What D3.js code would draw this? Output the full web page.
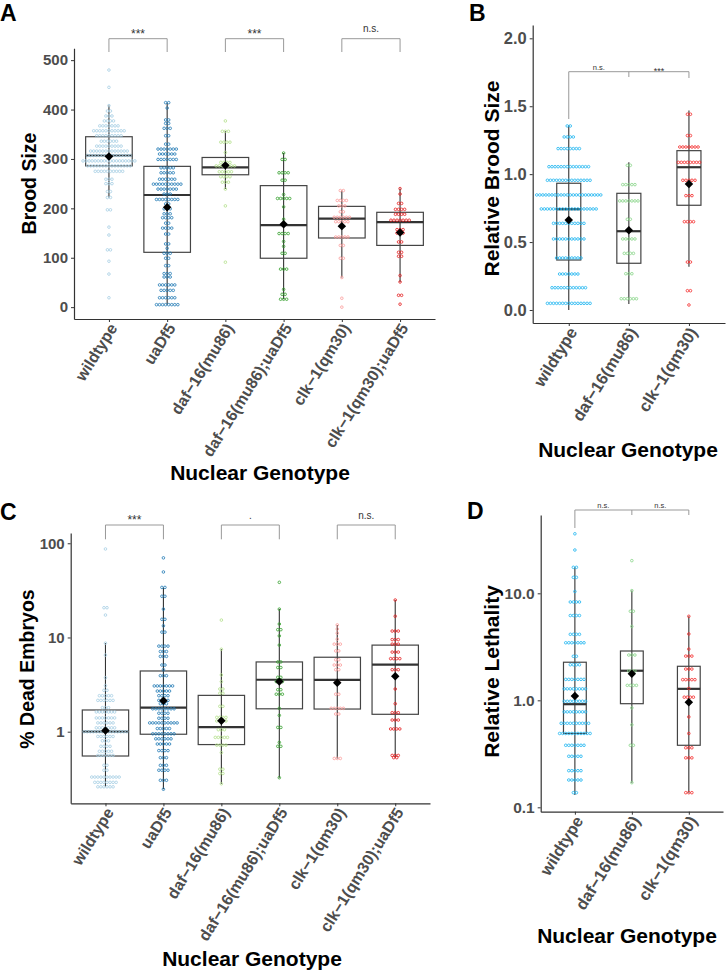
<!DOCTYPE html>
<html><head><meta charset="utf-8">
<script src="https://cdn.jsdelivr.net/npm/d3@7"></script>
<style>body{margin:0;background:#fff}svg{display:block}</style>
</head><body>
<script>
// ---------------- DATA ----------------
const genotypes6 = ["wildtype","uaDf5","daf\u221216(mu86)","daf\u221216(mu86);uaDf5","clk\u22121(qm30)","clk\u22121(qm30);uaDf5"];
const genotypes3 = ["wildtype","daf\u221216(mu86)","clk\u22121(qm30)"];
const colors6 = ["#A6CEE3","#1F78B4","#B2DF8A","#33A02C","#FB9A99","#E31A1C"];
const colors3 = ["#1AB4F0","#86D486","#F42A2A"];

// Panel A: Brood size rows [value, count]
const broodWildtype = [[480,1],[445,1],[408,1],[397,2],[387,3],[377,4],[367,7],[357,11],[347,9],[336,6],[326,9],[316,13],[307,15],[296,18],[286,15],[275,10],[259,3],[250,3],[234,2],[222,2],[197,2],[162,1],[146,1],[116,2],[93,1],[67,1],[19,1]];
const broodUaDf5 = [[414,2],[403,1],[379,2],[372,2],[362,3],[347,2],[330,2],[320,7],[310,6],[299,7],[282,5],[272,5],[259,6],[249,10],[239,7],[229,3],[218,8],[209,2],[199,3],[189,3],[181,4],[170,2],[160,4],[148,2],[128,2],[119,1],[109,3],[99,2],[84,2],[68,3],[61,3],[45,6],[34,5],[19,6],[5,8]];
const broodDaf16 = [[377,1],[356,3],[334,4],[313,1],[293,4],[286,7],[274,5],[264,4],[253,3],[239,1],[205,1],[91,1]];
const broodDaf16UaDf5 = [[312,1],[299,2],[272,4],[257,2],[228,1],[220,5],[203,1],[178,1],[149,4],[133,1],[123,1],[109,2],[77,3],[36,1],[26,2],[16,3]];
const broodClk1 = [[236,2],[216,4],[205,3],[193,2],[182,6],[173,5],[142,5],[125,2],[99,2],[60,1],[18,1],[0,1]];
const broodClk1UaDf5 = [[240,1],[229,1],[210,2],[198,4],[188,4],[176,7],[157,3],[150,3],[132,2],[111,2],[103,2],[64,1],[51,1],[24,2],[6,1]];
const broodQ1 = [286,111,268,99,140,125];
const broodMedian = [307,227,283,166,179,172];
const broodQ3 = [345,285,303,246,204,192];
const broodLo = [222,5,239,16,60,51];
const broodHi = [408,414,356,312,236,240];
const broodMean = [305,202,287,168,164,151];
const broodTicks = [0,100,200,300,400,500];
const broodSig = ["***","***","n.s."];

// Panel B: relative brood size
const relBroodWildtype = [[1.355,2],[1.274,4],[1.188,8],[1.055,14],[0.955,15],[0.847,22],[0.744,19],[0.638,11],[0.523,11],[0.383,9],[0.265,7],[0.164,12],[0.049,15]];
const relBroodDaf16 = [[1.065,2],[0.923,5],[0.803,7],[0.668,2],[0.523,5],[0.417,4],[0.267,3],[0.083,6]];
const relBroodClk1 = [[1.441,2],[1.284,2],[1.2,7],[1.087,8],[0.955,5],[0.842,3],[0.65,4],[0.353,2],[0.142,2],[0.037,1]];
const relBroodQ1 = [0.368,0.344,0.771];
const relBroodMedian = [0.742,0.58,1.051];
const relBroodQ3 = [0.933,0.859,1.173];
const relBroodLo = [0.0,0.044,0.319];
const relBroodHi = [1.36,1.087,1.468];
const relBroodMean = [0.663,0.587,0.928];
const relBroodTicks = [0,0.5,1.0,1.5,2.0];
const relBroodSig = ["n.s.","***"];

// Panel C: % dead embryos
const deadWildtype = [[87,1],[20.7,2],[17.3,1],[8.7,1],[6.5,1],[3.74,1],[3.08,1],[2.75,2],[2.41,5],[2.15,6],[1.8,3],[1.62,7],[1.40,7],[1.24,6],[1.10,7],[1.0,15],[0.89,6],[0.80,3],[0.70,4],[0.62,5],[0.56,6],[0.44,2],[0.39,2],[0.33,10],[0.29,8],[0.26,6]];
const deadUaDf5 = [[70,1],[49.6,1],[34,2],[27.4,2],[20,1],[15.6,2],[13.3,1],[11.4,2],[8.1,4],[7.1,3],[6.3,3],[5.1,2],[4.55,1],[3.93,3],[3.06,7],[2.7,5],[2.41,4],[2.15,4],[1.98,3],[1.75,8],[1.57,4],[1.39,4],[1.24,10],[1.08,5],[0.95,8],[0.84,6],[0.74,5],[0.63,4],[0.53,3],[0.44,3],[0.39,4],[0.305,3],[0.245,1]];
const deadDaf16 = [[15.3,1],[7.5,1],[4.0,1],[3.4,1],[2.84,2],[2.56,2],[1.86,2],[1.42,4],[1.30,4],[1.05,3],[0.87,5],[0.72,4],[0.60,1],[0.40,2],[0.36,2],[0.28,1]];
const deadDaf16UaDf5 = [[38.5,1],[20,1],[13.9,1],[12.1,2],[10.4,1],[8.3,1],[5.5,2],[4.8,2],[3.78,2],[3.4,3],[2.79,2],[2.5,3],[1.77,1],[1.49,1],[1.11,2],[0.77,1],[0.70,2],[0.325,1]];
const deadClk1 = [[13.6,1],[12.3,1],[11.1,1],[9.6,1],[8.5,3],[7.2,2],[5.8,2],[5.1,3],[4.55,2],[3.35,2],[2.5,2],[1.77,5],[1.54,2],[0.52,3]];
const deadClk1UaDf5 = [[25,1],[16.8,1],[11.7,3],[9.5,3],[8.5,3],[7.0,3],[5.96,4],[4.55,3],[2.84,1],[1.98,1],[1.59,3],[1.33,3],[1.07,4],[0.56,3],[0.53,2]];
const deadQ1 = [0.552,0.94,0.73,1.75,1.74,1.53];
const deadMedian = [1.0,1.80,1.12,3.56,3.54,5.14];
const deadQ3 = [1.70,4.41,2.43,5.5,6.17,8.3];
const deadLo = [0.26,0.245,0.28,0.325,0.52,0.53];
const deadHi = [8.7,34,7.5,20,13.6,25];
const deadMean = [1.03,2.13,1.31,3.4,3.31,3.87];
const deadTicks = [1,10,100];
const deadSig = ["***",".","n.s."];

// Panel D: relative lethality
const lethWildtype = [[36,1],[25.4,1],[17.5,2],[14.1,2],[10.4,1],[8.3,4],[6.2,4],[4.14,4],[3.45,7],[2.58,2],[2.15,4],[1.57,7],[1.28,8],[0.98,8],[0.78,8],[0.61,10],[0.49,11],[0.38,7],[0.30,5],[0.22,5],[0.18,5],[0.137,2]];
const lethDaf16 = [[20.2,1],[10.6,1],[6.8,2],[4.9,1],[2.65,3],[1.88,3],[1.38,4],[0.85,1],[0.59,1],[0.38,2],[0.17,1]];
const lethClk1 = [[6.1,1],[4.17,1],[3.01,1],[2.59,3],[1.96,3],[1.56,5],[1.29,1],[1.07,4],[0.70,1],[0.49,1],[0.36,3],[0.29,3],[0.137,3]];
const lethQ1 = [0.49,0.93,0.38];
const lethMedian = [0.92,1.89,1.28];
const lethQ3 = [2.27,2.89,2.08];
const lethLo = [0.13,0.17,0.137];
const lethHi = [17.5,10.6,6.1];
const lethMean = [1.10,1.77,0.96];
const lethTicks = [0.1,1.0,10.0];
const lethSig = ["n.s.","n.s."];

// ---------------- DRAWING ----------------
const FONT = "'Liberation Sans', Arial, Helvetica, sans-serif";
const svg = d3.select("body").append("svg").attr("width",726).attr("height",972)
  .style("font-family", FONT);

function drawPanel(p) {
  const g = svg.append("g");
  const x = d3.scalePoint().domain(p.cats).range([p.x0, p.x1]).padding(0.6);
  const step = x.step();
  const y = (p.log ? d3.scaleLog() : d3.scaleLinear()).domain(p.yDomain).range([p.yBottom, p.yTop]);

  // panel letter
  g.append("text").attr("x", p.letterX).attr("y", p.letterY).text(p.letter)
    .attr("font-size", 23).attr("font-weight", "bold").attr("fill", "#000");

  // y axis
  const ya = g.append("g").attr("transform", `translate(${p.x0},0)`)
    .call(d3.axisLeft(y).tickValues(p.ticks).tickFormat(p.fmt).tickSize(3).tickSizeOuter(0).tickPadding(3));
  ya.select(".domain").attr("stroke", "#333").attr("stroke-width", 1.2);
  ya.selectAll(".tick line").attr("stroke", "#333").attr("stroke-width", 1);
  ya.selectAll(".tick text").attr("font-size", p.tickFs).attr("font-weight", "bold")
    .attr("fill", "#4D4D4D").attr("font-family", FONT);

  // x axis
  const xa = g.append("g").attr("transform", `translate(0,${p.yBottom})`)
    .call(d3.axisBottom(x).tickSize(3).tickSizeOuter(0).tickFormat(""));
  xa.select(".domain").attr("stroke", "#333").attr("stroke-width", 1.2);
  xa.selectAll(".tick line").attr("stroke", "#333").attr("stroke-width", 1);
  p.cats.forEach(c => {
    g.append("text")
      .attr("transform", `translate(${x(c) + 9},${p.yBottom + 9}) rotate(-58)`)
      .attr("text-anchor", "end").attr("font-size", p.xTickFs).attr("font-weight", "bold")
      .attr("fill", "#4D4D4D").text(c);
  });

  // titles
  g.append("text").attr("transform", `translate(${p.yTitleX},${p.yTitleY}) rotate(-90)`)
    .attr("text-anchor", "middle").attr("font-size", p.yTitleFs).attr("font-weight", "bold")
    .attr("fill", "#000").text(p.yTitle);
  g.append("text").attr("x", p.xTitleX).attr("y", p.xTitleY)
    .attr("text-anchor", "middle").attr("font-size", 21).attr("font-weight", "bold")
    .attr("fill", "#000").text("Nuclear Genotype");

  const hw = step * p.boxFrac / 2;
  p.cats.forEach((c, i) => {
    const cx = x(c);
    g.append("line").attr("x1", cx).attr("x2", cx).attr("y1", y(p.lo[i])).attr("y2", y(p.hi[i]))
      .attr("stroke", "#333").attr("stroke-width", 1.1);
    g.append("rect").attr("x", cx - hw).attr("width", hw * 2)
      .attr("y", y(p.q3[i])).attr("height", y(p.q1[i]) - y(p.q3[i]))
      .attr("fill", "none").attr("stroke", "#444").attr("stroke-width", 1.2);
    g.append("line").attr("x1", cx - hw).attr("x2", cx + hw).attr("y1", y(p.med[i])).attr("y2", y(p.med[i]))
      .attr("stroke", "#333").attr("stroke-width", 2.2);
    const sp = 3.05;
    p.rows[i].forEach(([v, n]) => {
      for (let j = 0; j < n; j++) {
        g.append("circle").attr("cx", cx + (j - (n - 1) / 2) * sp).attr("cy", y(v)).attr("r", 1.3)
          .attr("fill", "none").attr("stroke", p.colors[i]).attr("stroke-width", 0.8);
      }
    });
    g.append("path").attr("d", d3.symbol().type(d3.symbolSquare).size(36)())
      .attr("transform", `translate(${cx},${y(p.mean[i])}) rotate(45)`).attr("fill", "#000");
  });

  // significance brackets
  const bc = "#999";
  if (p.bracketPairs) {
    p.sig.forEach((s, k) => {
      const xa1 = x(p.cats[2 * k]), xa2 = x(p.cats[2 * k + 1]);
      g.append("path").attr("d", `M${xa1},${p.brArm}V${p.brTop}H${xa2}V${p.brArm}`)
        .attr("fill", "none").attr("stroke", bc).attr("stroke-width", 1);
      const star = s.indexOf("*") >= 0;
      g.append("text").attr("x", (xa1 + xa2) / 2).attr("y", star ? p.brTop - 1 : p.brTop - 6.5)
        .attr("text-anchor", "middle").attr("font-size", star ? 12 : 10).attr("fill", "#333").text(s);
    });
  } else {
    const xs = p.cats.map(c => x(c));
    g.append("path").attr("d", `M${xs[0]},${p.brLeft}V${p.brTop}H${xs[2]}V${p.brRight}`)
      .attr("fill", "none").attr("stroke", bc).attr("stroke-width", 1);
    g.append("path").attr("d", `M${xs[1]},${p.brTop}V${p.brMid}`)
      .attr("fill", "none").attr("stroke", bc).attr("stroke-width", 1);
    p.sig.forEach((s, k) => {
      const star = s.indexOf("*") >= 0;
      g.append("text").attr("x", (xs[k] + xs[k + 1]) / 2).attr("y", star ? p.brTop + 2 : p.brTop - 2)
        .attr("text-anchor", "middle").attr("font-size", star ? 9 : 7.5).attr("fill", "#333").text(s);
    });
  }
}

drawPanel({
  letter: "A", letterX: 0, letterY: 21,
  cats: genotypes6, colors: colors6,
  rows: [broodWildtype, broodUaDf5, broodDaf16, broodDaf16UaDf5, broodClk1, broodClk1UaDf5],
  q1: broodQ1, med: broodMedian, q3: broodQ3, lo: broodLo, hi: broodHi, mean: broodMean,
  log: false, yDomain: [-24, 524], yBottom: 319, yTop: 48.3, x0: 74, x1: 435,
  ticks: broodTicks, fmt: d3.format("d"), tickFs: 15, xTickFs: 16,
  boxFrac: 0.8,
  yTitle: "Brood Size", yTitleX: 36, yTitleY: 183.5, yTitleFs: 19.5,
  xTitleX: 260, xTitleY: 480,
  bracketPairs: true, sig: broodSig, brTop: 38.7, brArm: 52
});

drawPanel({
  letter: "B", letterX: 469, letterY: 21,
  cats: genotypes3, colors: colors3,
  rows: [relBroodWildtype, relBroodDaf16, relBroodClk1],
  q1: relBroodQ1, med: relBroodMedian, q3: relBroodQ3, lo: relBroodLo, hi: relBroodHi, mean: relBroodMean,
  log: false, yDomain: [-0.0957, 2.098], yBottom: 323, yTop: 25, x0: 532.7, x1: 725,
  ticks: relBroodTicks, fmt: d3.format(".1f"), tickFs: 16.5, xTickFs: 16.5,
  boxFrac: 0.4,
  yTitle: "Relative Brood Size", yTitleX: 499, yTitleY: 178.5, yTitleFs: 21,
  xTitleX: 628, xTitleY: 457,
  bracketPairs: false, sig: relBroodSig, brTop: 71.7, brLeft: 119, brMid: 77, brRight: 78
});

drawPanel({
  letter: "C", letterX: 0, letterY: 520,
  cats: genotypes6, colors: colors6,
  rows: [deadWildtype, deadUaDf5, deadDaf16, deadDaf16UaDf5, deadClk1, deadClk1UaDf5],
  q1: deadQ1, med: deadMedian, q3: deadQ3, lo: deadLo, hi: deadHi, mean: deadMean,
  log: true, yDomain: [Math.pow(10, -0.76), Math.pow(10, 2.109)], yBottom: 803.3, yTop: 533, x0: 70.7, x1: 430,
  ticks: deadTicks, fmt: d3.format("d"), tickFs: 15, xTickFs: 16,
  boxFrac: 0.8,
  yTitle: "% Dead Embryos", yTitleX: 34, yTitleY: 669, yTitleFs: 19.5,
  xTitleX: 252, xTitleY: 966,
  bracketPairs: true, sig: deadSig, brTop: 525, brArm: 539.3
});

drawPanel({
  letter: "D", letterX: 467, letterY: 519,
  cats: genotypes3, colors: colors3,
  rows: [lethWildtype, lethDaf16, lethClk1],
  q1: lethQ1, med: lethMedian, q3: lethQ3, lo: lethLo, hi: lethHi, mean: lethMean,
  log: true, yDomain: [Math.pow(10, -1.041), Math.pow(10, 1.732)], yBottom: 811.7, yTop: 515, x0: 540.7, x1: 723,
  ticks: lethTicks, fmt: d3.format(".1f"), tickFs: 15.5, xTickFs: 16.5,
  boxFrac: 0.4,
  yTitle: "Relative Lethality", yTitleX: 499, yTitleY: 671.5, yTitleFs: 21,
  xTitleX: 627, xTitleY: 943,
  bracketPairs: false, sig: lethSig, brTop: 510, brLeft: 528, brMid: 515, brRight: 515
});
</script>
</body></html>
